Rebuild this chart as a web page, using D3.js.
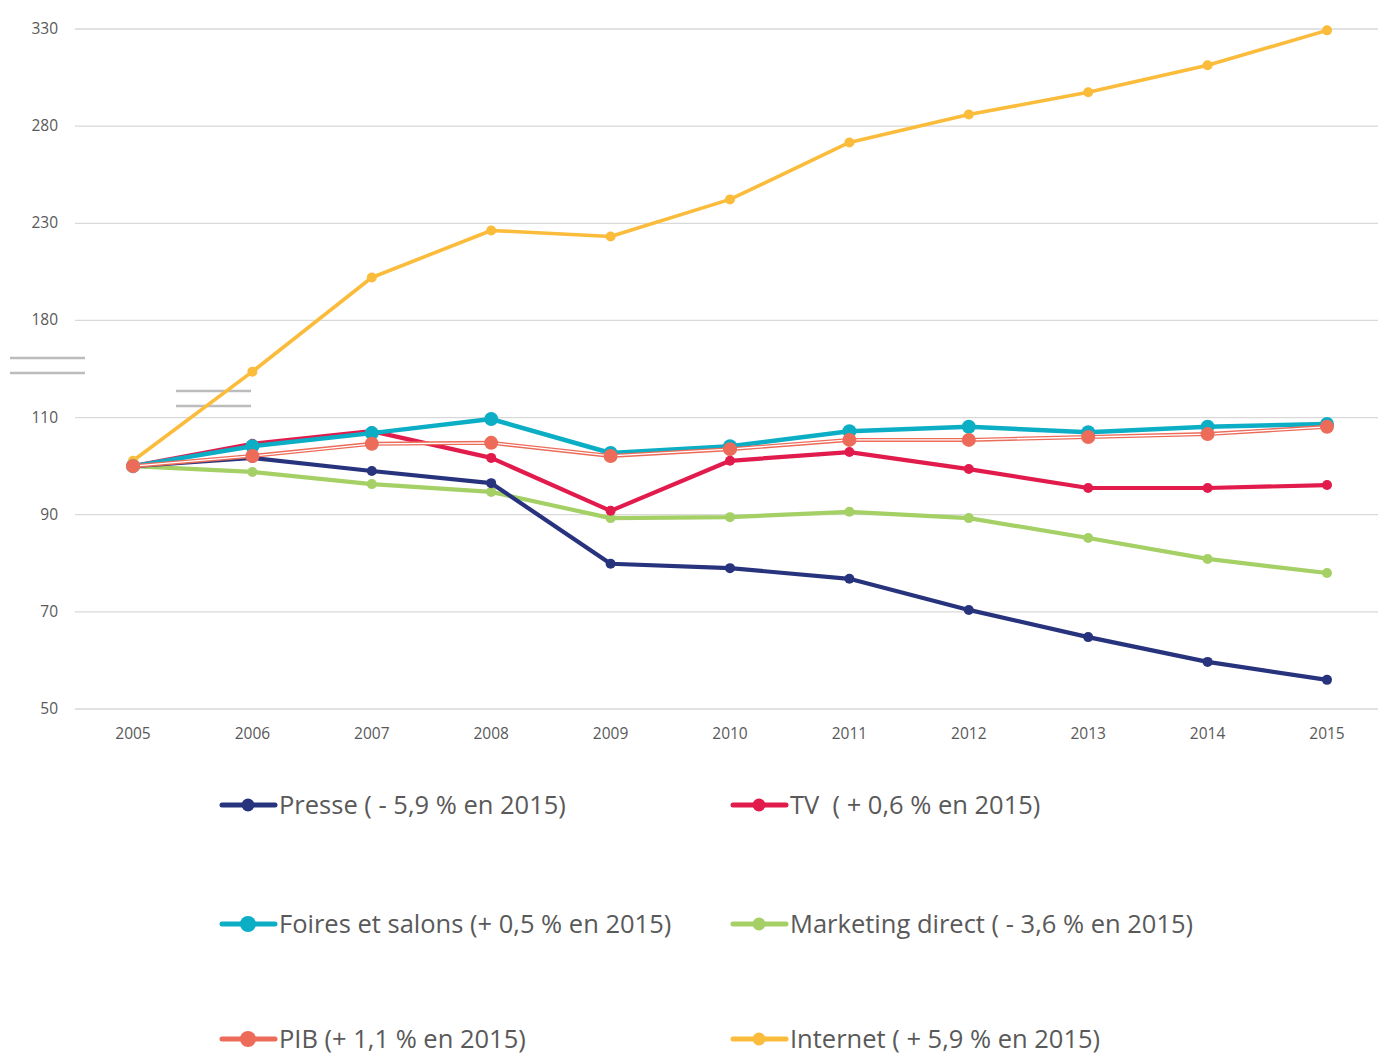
<!DOCTYPE html>
<html>
<head>
<meta charset="utf-8">
<script src="https://cdn.jsdelivr.net/npm/d3@7"></script>
<style>
  body { margin: 0; background: #fff; }
  svg { display: block; font-family: "Open Sans", Lato, sans-serif; }
</style>
</head>
<body>
<svg width="1378" height="1055"></svg>
<script>
const years = [2005, 2006, 2007, 2008, 2009, 2010, 2011, 2012, 2013, 2014, 2015];
const yTicks = [50, 70, 90, 110, 180, 230, 280, 330];

const presse = [100, 101.7, 99.0, 96.5, 79.9, 79.0, 76.8, 70.4, 64.8, 59.7, 56.0];
const tv = [100, 104.6, 107.2, 101.7, 90.8, 101.1, 102.9, 99.4, 95.5, 95.5, 96.1];
const foires = [100, 104.1, 106.8, 109.7, 102.7, 104.1, 107.2, 108.1, 107.0, 108.1, 108.7];
const marketing = [100, 98.8, 96.3, 94.7, 89.3, 89.5, 90.6, 89.3, 85.2, 80.9, 78.0];
const pib = [100, 102.1, 104.6, 104.8, 102.1, 103.5, 105.4, 105.4, 106.0, 106.6, 108.1];
const internet = [101.1, 143.1, 202.1, 226.3, 223.2, 242.3, 271.6, 286.0, 297.4, 311.3, 329.3];

const seriesNames = [
  'Presse ( - 5,9 % en 2015)',
  'TV  ( + 0,6 % en 2015)',
  'Foires et salons (+ 0,5 % en 2015)',
  'Marketing direct ( - 3,6 % en 2015)',
  'PIB (+ 1,1 % en 2015)',
  'Internet ( + 5,9 % en 2015)',
];

const series = [
  { name: seriesNames[0], values: presse, color: '#28337d', width: 4.2, r: 5 },
  { name: seriesNames[1], values: tv, color: '#e11b4c', width: 4.2, r: 5 },
  { name: seriesNames[2], values: foires, color: '#0caec6', width: 4.5, r: 7 },
  { name: seriesNames[3], values: marketing, color: '#a5d066', width: 4.2, r: 5 },
  { name: seriesNames[4], values: pib, color: '#ec6b59', width: 4, r: 7, hollow: true },
  { name: seriesNames[5], values: internet, color: '#fbbb3b', width: 3.6, r: 5 },
];

// drawing order so that the overlaps look like the original
const drawOrder = [3, 0, 5, 1, 2, 4];

const svg = d3.select('svg');

const x = d3.scalePoint().domain(years).range([133, 1327]);
const y = d3.scaleLinear()
  .domain(yTicks)
  .range(yTicks.map((d, i) => 709 - i * (680 / 7)));

// grid
svg.append('g')
  .selectAll('line')
  .data(yTicks)
  .enter()
  .append('line')
  .attr('x1', 75)
  .attr('x2', 1378)
  .attr('y1', d => y(d))
  .attr('y2', d => y(d))
  .style('stroke', '#d9d9d9')
  .style('stroke-width', '1.3px');

// y labels
svg.append('g')
  .selectAll('text')
  .data(yTicks)
  .enter()
  .append('text')
  .attr('x', 58)
  .attr('y', d => y(d) + 5)
  .attr('text-anchor', 'end')
  .style('font-size', '15.5px')
  .style('fill', '#595959')
  .text(d => d);

// x labels
svg.append('g')
  .selectAll('text')
  .data(years)
  .enter()
  .append('text')
  .attr('x', d => x(d))
  .attr('y', 739)
  .attr('text-anchor', 'middle')
  .style('font-size', '15.5px')
  .style('fill', '#595959')
  .text(d => d);

// axis break marks
const breaks = [
  [10, 85, y(145) - 11],
  [10, 85, y(145) + 4],
  [176, 251, y(122) - 10],
  [176, 251, y(122) + 5],
];
svg.append('g')
  .selectAll('line')
  .data(breaks)
  .enter()
  .append('line')
  .attr('x1', d => d[0])
  .attr('x2', d => d[1])
  .attr('y1', d => d[2])
  .attr('y2', d => d[2])
  .style('stroke', '#bcbcbc')
  .style('stroke-width', '2.5px');

const line = d3.line()
  .x((d, i) => x(years[i]))
  .y(d => y(d));

drawOrder.forEach((si) => {
  const s = series[si];
  const g = svg.append('g');
  g.append('path')
    .attr('d', line(s.values))
    .style('fill', 'none')
    .style('stroke', s.color)
    .style('stroke-width', `${s.width}px`)
    .style('stroke-linejoin', 'round');
  if (s.hollow) {
    g.append('path')
      .attr('d', line(s.values))
      .style('fill', 'none')
      .style('stroke', '#fff')
      .style('stroke-width', '1.3px');
  }
  g.selectAll('circle')
    .data(s.values)
    .enter()
    .append('circle')
    .attr('cx', (d, i) => x(years[i]))
    .attr('cy', d => y(d))
    .attr('r', s.r)
    .style('fill', s.color);
});

// legend
const legendPos = [
  [220, 805], [731, 805],
  [220, 924], [731, 924],
  [220, 1039], [731, 1039],
];
const legend = svg.append('g')
  .selectAll('g.legend')
  .data(series)
  .enter()
  .append('g')
  .attr('class', 'legend')
  .attr('transform', (d, i) => `translate(${legendPos[i][0]},${legendPos[i][1]})`);

legend.append('line')
  .attr('x1', 2)
  .attr('x2', 55)
  .attr('y1', 0)
  .attr('y2', 0)
  .style('stroke', d => d.color)
  .style('stroke-width', '5px')
  .style('stroke-linecap', 'round');

legend.append('circle')
  .attr('cx', 28)
  .attr('cy', 0)
  .attr('r', d => (d.r > 5 ? 8 : 6.5))
  .style('fill', d => d.color);

legend.append('text')
  .attr('x', 59)
  .attr('y', 9)
  .style('font-size', '25.5px')
  .style('white-space', 'pre')
  .style('fill', '#595959')
  .text(d => d.name);
</script>
</body>
</html>
